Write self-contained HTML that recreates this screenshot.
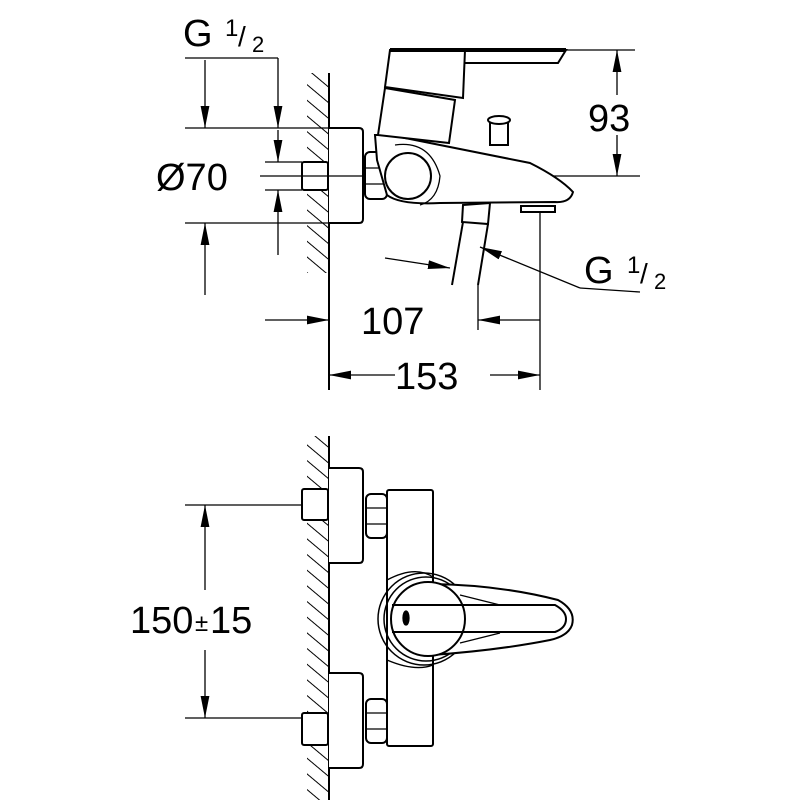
<!DOCTYPE html>
<html><head><style>html,body{margin:0;padding:0;background:#fff}svg{display:block}text{font-family:"Liberation Sans",sans-serif;fill:#000}</style></head>
<body>
<svg width="800" height="800" viewBox="0 0 800 800" xmlns="http://www.w3.org/2000/svg">
<defs>
<pattern id="h" width="12" height="12" patternUnits="userSpaceOnUse" patternTransform="rotate(-50)"><line x1="0" y1="0" x2="0" y2="12" stroke="#000" stroke-width="2"/></pattern>
<marker id="b" viewBox="0 0 20 10" refX="20" refY="5" markerWidth="22" markerHeight="11" markerUnits="userSpaceOnUse" orient="auto"><path d="M0,1 L20,5 L0,9z" fill="#000"/></marker>
</defs>
<g fill="none" stroke="#000" stroke-width="1.3">
<rect x="307" y="73" width="22" height="200" fill="url(#h)" stroke="none"/>
<rect x="307" y="436" width="22" height="364" fill="url(#h)" stroke="none"/>
<line x1="329" y1="73" x2="329" y2="390" stroke-width="2"/>
<line x1="329" y1="436" x2="329" y2="800" stroke-width="2"/>
<path d="M329,128 H359 Q363,128 363,132 V219 Q363,223 359,223 H329" fill="#fff" stroke-width="2"/>
<rect x="302" y="162" width="26" height="28" rx="2" fill="#fff" stroke-width="2"/>
<line x1="260" y1="176" x2="640" y2="176"/>
<rect x="365" y="152" width="22" height="47" rx="5" fill="#fff" stroke-width="2"/>
<line x1="366" y1="168" x2="386" y2="168"/><line x1="366" y1="184" x2="386" y2="184"/>
<path d="M375,135 L390,135 L530,163 Q560,178 573,192 Q570,203 555,202 L440,203 Q400,205 387,195 L377,160 Z" fill="#fff" stroke-width="2"/>
<circle cx="408" cy="176" r="23" stroke-width="2"/>
<path d="M395,145 Q430,140 440,176 Q438,200 420,205" />
<path d="M385,87 L390,50 L465,50 L463,98 Z" fill="#fff" stroke-width="2"/>
<path d="M385,88 L455,100 L449,143 L378,135 Z" fill="#fff" stroke-width="2"/>
<path d="M465,50 L566,50 L558,63 L465,63" stroke-width="2"/>
<line x1="390" y1="50" x2="566" y2="50" stroke-width="4"/>
<rect x="490" y="120" width="18" height="25" fill="#fff" stroke-width="2"/>
<ellipse cx="499" cy="120" rx="11" ry="4" fill="#fff" stroke-width="2"/>
<rect x="521" y="206" width="34" height="6" stroke-width="2"/>
<path d="M463,205 L490,203 L488,224 L462,222 Z" fill="#fff" stroke-width="2"/>
<line x1="463" y1="222" x2="452" y2="285" stroke-width="2"/>
<line x1="488" y1="224" x2="478" y2="285" stroke-width="2"/>
<line x1="185" y1="58" x2="278" y2="58"/>
<line x1="278" y1="58" x2="278" y2="128" marker-end="url(#b)"/>
<line x1="205" y1="60" x2="205" y2="128" marker-end="url(#b)"/>
<line x1="205" y1="295" x2="205" y2="223" marker-end="url(#b)"/>
<line x1="185" y1="128" x2="329" y2="128"/>
<line x1="185" y1="223" x2="329" y2="223"/>
<line x1="278" y1="130" x2="278" y2="162" marker-end="url(#b)"/>
<line x1="278" y1="255" x2="278" y2="190" marker-end="url(#b)"/>
<line x1="265" y1="162" x2="302" y2="162"/>
<line x1="265" y1="190" x2="302" y2="190"/>
<line x1="566" y1="50" x2="635" y2="50"/>
<line x1="617" y1="95" x2="617" y2="50" marker-end="url(#b)"/>
<line x1="617" y1="135" x2="617" y2="176" marker-end="url(#b)"/>
<line x1="540" y1="212" x2="540" y2="390"/>
<line x1="478" y1="285" x2="478" y2="330"/>
<line x1="385" y1="258" x2="450" y2="268" marker-end="url(#b)"/>
<line x1="640" y1="292" x2="580" y2="288"/>
<line x1="580" y1="288" x2="480" y2="247" marker-end="url(#b)"/>
<line x1="265" y1="320" x2="329" y2="320" marker-end="url(#b)"/>
<line x1="540" y1="320" x2="478" y2="320" marker-end="url(#b)"/>
<line x1="395" y1="375" x2="329" y2="375" marker-end="url(#b)"/>
<line x1="490" y1="375" x2="540" y2="375" marker-end="url(#b)"/>
<path d="M329,468 H359 Q363,468 363,472 V559 Q363,563 359,563 H329" fill="#fff" stroke-width="2"/>
<path d="M329,673 H359 Q363,673 363,677 V764 Q363,768 359,768 H329" fill="#fff" stroke-width="2"/>
<rect x="302" y="489" width="26" height="31" rx="2" fill="#fff" stroke-width="2"/>
<rect x="302" y="713" width="26" height="32" rx="2" fill="#fff" stroke-width="2"/>
<rect x="366" y="494" width="21" height="44" rx="5" fill="#fff" stroke-width="2"/>
<rect x="366" y="699" width="21" height="44" rx="5" fill="#fff" stroke-width="2"/>
<line x1="367" y1="508" x2="386" y2="508"/><line x1="367" y1="524" x2="386" y2="524"/>
<line x1="367" y1="713" x2="386" y2="713"/><line x1="367" y1="729" x2="386" y2="729"/>
<rect x="387" y="490" width="46" height="256" rx="2" fill="#fff" stroke-width="2"/>
<path d="M387,580 Q415,565 433,577 M387,660 Q415,672 433,665"/>
<circle cx="424" cy="619" r="46" stroke-width="1.5"/>
<circle cx="426" cy="619" r="42" stroke-width="1.5"/>
<path d="M432,584 Q500,585 558,600 Q576,610 572,625 Q568,636 550,640 Q500,650 432,655 Z" fill="#fff" stroke-width="2"/>
<circle cx="428" cy="619" r="37" fill="#fff" stroke-width="2"/>
<path d="M392,605 H555 Q566,611 566,619 Q566,628 555,632 H392" stroke-width="2"/>
<path d="M460,595 L500,605 M460,643 L500,633"/>
<ellipse cx="406" cy="618" rx="3" ry="7" fill="#000"/>
<line x1="185" y1="505" x2="302" y2="505"/>
<line x1="185" y1="718" x2="302" y2="718"/>
<line x1="205" y1="590" x2="205" y2="505" marker-end="url(#b)"/>
<line x1="205" y1="650" x2="205" y2="718" marker-end="url(#b)"/>
</g>
<g font-size="38">
<text x="183" y="46">G</text><text x="225" y="36" font-size="24">1</text><text x="238" y="46" font-size="28">/</text><text x="252" y="52" font-size="22">2</text>
<text x="156" y="190">Ø70</text>
<text x="588" y="131">93</text>
<text x="584" y="283">G</text><text x="627" y="273" font-size="24">1</text><text x="640" y="283" font-size="28">/</text><text x="654" y="289" font-size="22">2</text>
<text x="361" y="334">107</text>
<text x="395" y="389">153</text>
<text x="130" y="633">150</text><text x="195" y="631" font-size="24">±</text><text x="210" y="633">15</text>
</g>
</svg>
</body></html>
